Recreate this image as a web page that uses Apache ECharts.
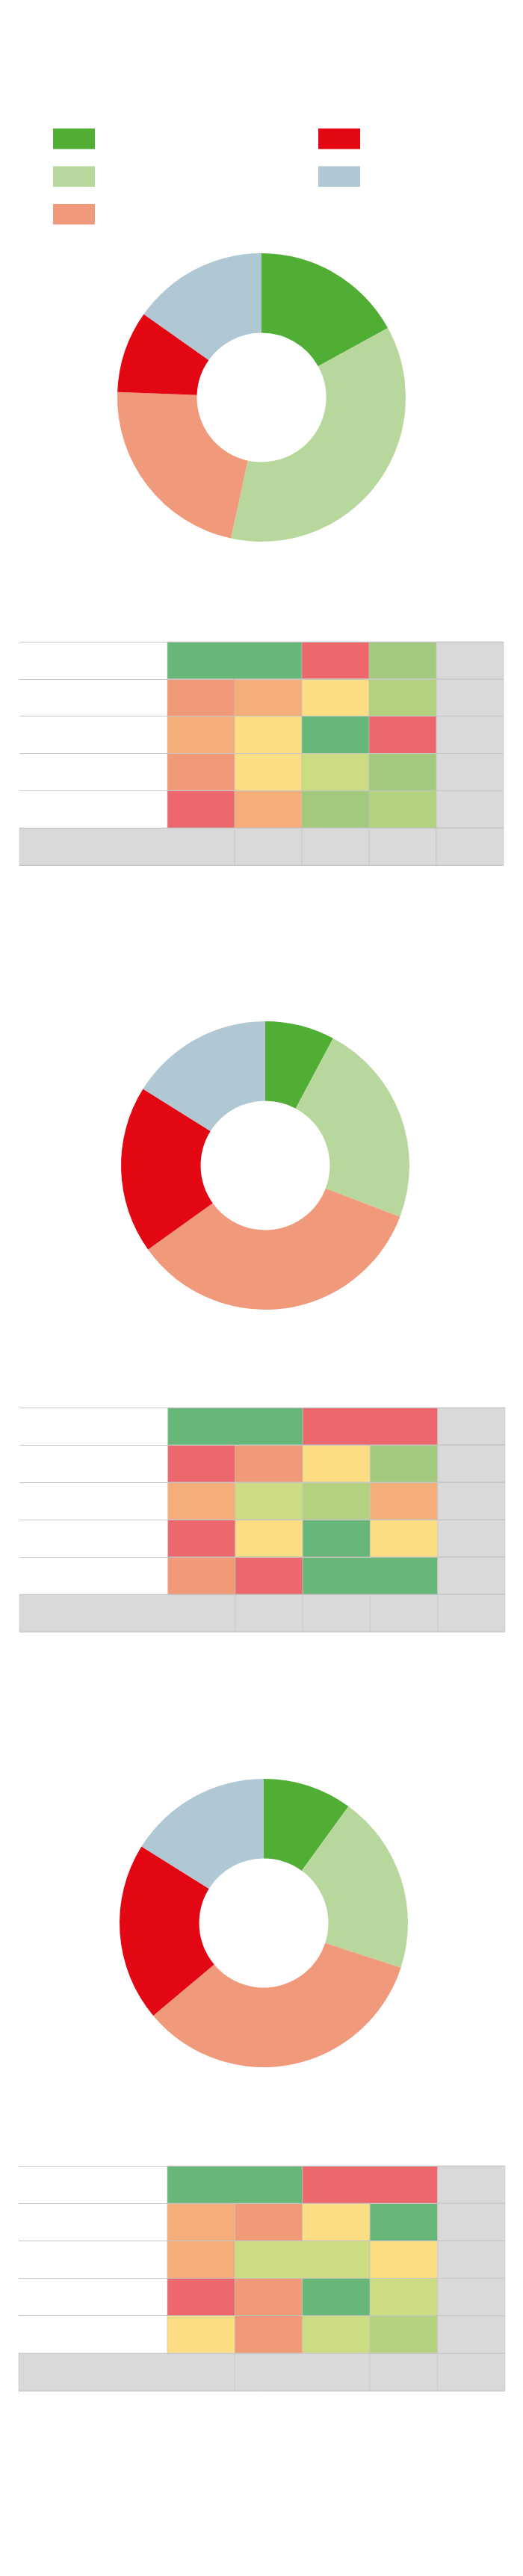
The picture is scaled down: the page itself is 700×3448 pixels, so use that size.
<!DOCTYPE html>
<html>
<head>
<meta charset="utf-8">
<script src="https://cdn.jsdelivr.net/npm/echarts@6/dist/echarts.min.js"></script>
<style>
  html, body { margin: 0; padding: 0; background: #ffffff; }
  #chart { width: 700px; height: 3448px; }
</style>
</head>
<body>
<div id="chart"></div>
<script>
// ---- data ----
const categories = ['A', 'B', 'C', 'D', 'E'];
const pie1Values = [17.0, 36.4, 22.2, 9.2, 15.2];
const pie2Values = [7.8, 23.0, 34.3, 18.8, 16.1];
const pie3Values = [10.0, 20.0, 33.9, 20.0, 16.1];

// heat table levels (rows x 4 coloured columns), 1 = worst (red) ... 8 = best (green)
const table1Levels = [
  [8, 8, 1, 7],
  [2, 3, 4, 6],
  [3, 4, 8, 1],
  [2, 4, 5, 7],
  [1, 3, 7, 6]
];
const table2Levels = [
  [8, 8, 1, 1],
  [1, 2, 4, 7],
  [3, 5, 6, 3],
  [1, 4, 8, 4],
  [2, 1, 8, 8]
];
const table3Levels = [
  [8, 8, 1, 1],
  [3, 2, 4, 8],
  [3, 5, 5, 4],
  [1, 2, 8, 5],
  [4, 2, 5, 6]
];
// footer cell groups (column indices, 0 = label column, 5 = last grey column)
const table1Footer = [[0, 1], [2], [3], [4], [5]];
const table2Footer = [[0, 1], [2], [3], [4], [5]];
const table3Footer = [[0, 1], [2, 3], [4], [5]];

// ---- styles / layout ----
const pieColors = ['#50ae34', '#b8d79d', '#f1997b', '#e30713', '#afc8d3'];
const levelColors = ['#d9d9d9', '#ec686c', '#f19a77', '#f5ae7a', '#fddd83', '#cbdc83', '#b4d180', '#a3c97e', '#67b878'];
const colEdges = [0, 2.2, 3.2, 4.2, 5.2, 6.2, 7.2];

function buildCells(levels, footer) {
  const cells = [];
  levels.forEach((row, r) => {
    let c = 0;
    while (c < row.length) {
      let e = c;
      while (e + 1 < row.length && row[e + 1] === row[c]) e++;
      cells.push([colEdges[c + 1], colEdges[e + 2], r, row[c]]);
      c = e + 1;
    }
    cells.push([colEdges[5], colEdges[6], r, 0]);
  });
  footer.forEach(g => {
    cells.push([colEdges[g[0]], colEdges[g[g.length - 1] + 1], levels.length, 0]);
  });
  return cells;
}

const tables = [
  { levels: table1Levels, footer: table1Footer, grid: { left: 26, top: 859, width: 648, height: 299 } },
  { levels: table2Levels, footer: table2Footer, grid: { left: 26, top: 1884, width: 650, height: 300 } },
  { levels: table3Levels, footer: table3Footer, grid: { left: 25, top: 2899, width: 651, height: 301 } }
];

const pies = [
  { values: pie1Values, center: [350, 532] },
  { values: pie2Values, center: [355, 1560] },
  { values: pie3Values, center: [353, 2574] }
];

const legendCommon = {
  orient: 'vertical', top: 172, padding: 0,
  itemWidth: 56, itemHeight: 27.5, itemGap: 23,
  icon: 'rect', formatter: () => '', selectedMode: false,
  textStyle: { fontSize: 1 }
};

const option = {
  animation: false,
  backgroundColor: '#ffffff',
  color: pieColors,
  legend: [
    Object.assign({ data: categories.slice(0, 3), left: 71 }, legendCommon),
    Object.assign({ data: categories.slice(3), left: 426 }, legendCommon)
  ],
  grid: tables.map(t => Object.assign({ containLabel: false }, t.grid)),
  xAxis: tables.map((t, i) => ({
    type: 'value', gridIndex: i, min: 0, max: 7.2, show: false
  })),
  yAxis: tables.map((t, i) => ({
    type: 'value', gridIndex: i, min: 0, max: 6, interval: 1, inverse: true, z: 5,
    axisLabel: { show: false }, axisTick: { show: false }, axisLine: { show: false },
    splitLine: { show: true, lineStyle: { color: '#c6c6c6', width: 1 } }
  })),
  visualMap: [{
    type: 'piecewise', show: false, dimension: 3,
    seriesIndex: [3, 4, 5],
    pieces: levelColors.map((c, i) => ({ value: i, color: c }))
  }],
  series: [
    ...pies.map(p => ({
      type: 'pie', silent: true,
      center: p.center, radius: [86.5, 193],
      startAngle: 90, clockwise: true,
      label: { show: false }, labelLine: { show: false },
      itemStyle: { borderWidth: 0 },
      data: categories.map((c, i) => ({ name: c, value: p.values[i] }))
    })),
    ...tables.map((t, i) => ({
      type: 'custom', silent: true,
      xAxisIndex: i, yAxisIndex: i,
      renderItem: function (params, api) {
        const p0 = api.coord([api.value(0), api.value(2)]);
        const p1 = api.coord([api.value(1), api.value(2) + 1]);
        return {
          type: 'rect',
          shape: { x: p0[0], y: p0[1], width: p1[0] - p0[0], height: p1[1] - p0[1] },
          style: { fill: api.visual('color'), stroke: 'rgba(195,195,195,0.55)', lineWidth: 1 }
        };
      },
      encode: { x: [0, 1], y: 2 },
      data: buildCells(t.levels, t.footer)
    }))
  ]
};

const chart = echarts.init(document.getElementById('chart'), null, { renderer: 'canvas' });
chart.setOption(option);
</script>
</body>
</html>
